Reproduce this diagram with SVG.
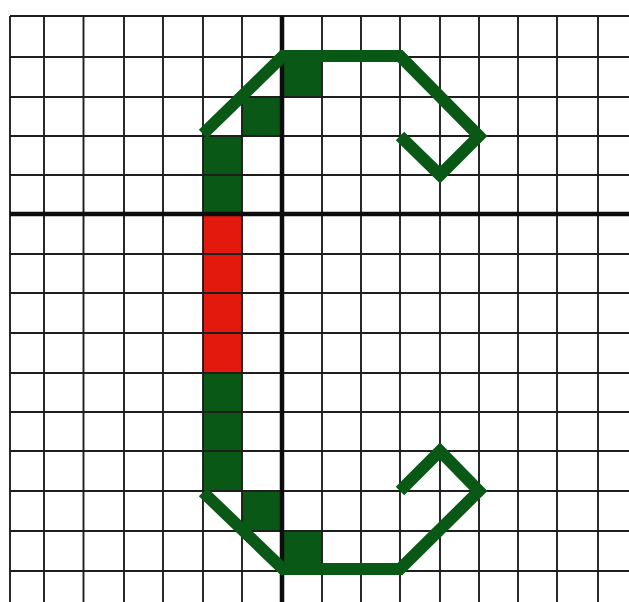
<svg xmlns="http://www.w3.org/2000/svg" width="629" height="602" viewBox="0 0 629 602">
<style>
.g{fill:#0a5816}
.r{fill:#e2190c}
.grid line{stroke:#1e1e1e;stroke-width:1.9}
.axis{stroke:#0d0d0d;stroke-width:4.5}
.stroke{fill:none;stroke:#0a5816;stroke-width:12;stroke-linejoin:miter;stroke-linecap:butt}
</style>
<rect width="629" height="602" fill="#fff"/>
<g id="cells">
<rect class="g" x="203" y="136" width="39" height="78"/>
<rect class="r" x="203" y="214" width="39" height="159"/>
<rect class="g" x="203" y="373" width="39" height="118"/>
<rect class="g" x="242" y="97" width="40" height="39"/>
<rect class="g" x="282" y="57" width="40" height="40"/>
<rect class="g" x="242" y="491" width="40" height="40"/>
<rect class="g" x="282" y="531" width="40" height="40"/>
</g>
<g id="grid" class="grid">
<line x1="10" y1="16" x2="629" y2="16"/>
<line x1="10" y1="57" x2="629" y2="57"/>
<line x1="10" y1="97" x2="629" y2="97"/>
<line x1="10" y1="136" x2="629" y2="136"/>
<line x1="10" y1="175" x2="629" y2="175"/>
<line x1="10" y1="254" x2="629" y2="254"/>
<line x1="10" y1="293" x2="629" y2="293"/>
<line x1="10" y1="333" x2="629" y2="333"/>
<line x1="10" y1="373" x2="629" y2="373"/>
<line x1="10" y1="412" x2="629" y2="412"/>
<line x1="10" y1="451" x2="629" y2="451"/>
<line x1="10" y1="491" x2="629" y2="491"/>
<line x1="10" y1="531" x2="629" y2="531"/>
<line x1="10" y1="571" x2="629" y2="571"/>
<line x1="10" y1="16" x2="10" y2="602"/>
<line x1="44" y1="16" x2="44" y2="602"/>
<line x1="83.5" y1="16" x2="83.5" y2="602"/>
<line x1="124" y1="16" x2="124" y2="602"/>
<line x1="163" y1="16" x2="163" y2="602"/>
<line x1="203" y1="16" x2="203" y2="602"/>
<line x1="242" y1="16" x2="242" y2="602"/>
<line x1="322" y1="16" x2="322" y2="602"/>
<line x1="361" y1="16" x2="361" y2="602"/>
<line x1="400" y1="16" x2="400" y2="602"/>
<line x1="440" y1="16" x2="440" y2="602"/>
<line x1="479" y1="16" x2="479" y2="602"/>
<line x1="518" y1="16" x2="518" y2="602"/>
<line x1="557" y1="16" x2="557" y2="602"/>
<line x1="598" y1="16" x2="598" y2="602"/>
</g>
<g id="axes">
<line class="axis" x1="10" y1="214" x2="629" y2="214"/>
<line class="axis" x1="282" y1="16" x2="282" y2="602"/>
</g>
<g id="connectors">
<path class="stroke" d="M203 134 L283 56 L400 56 L479 136 L440 175 L400 136"/>
<path class="stroke" d="M203 492 L283 569 L400 569 L479 491 L440 451 L400 491"/>
</g>
</svg>
